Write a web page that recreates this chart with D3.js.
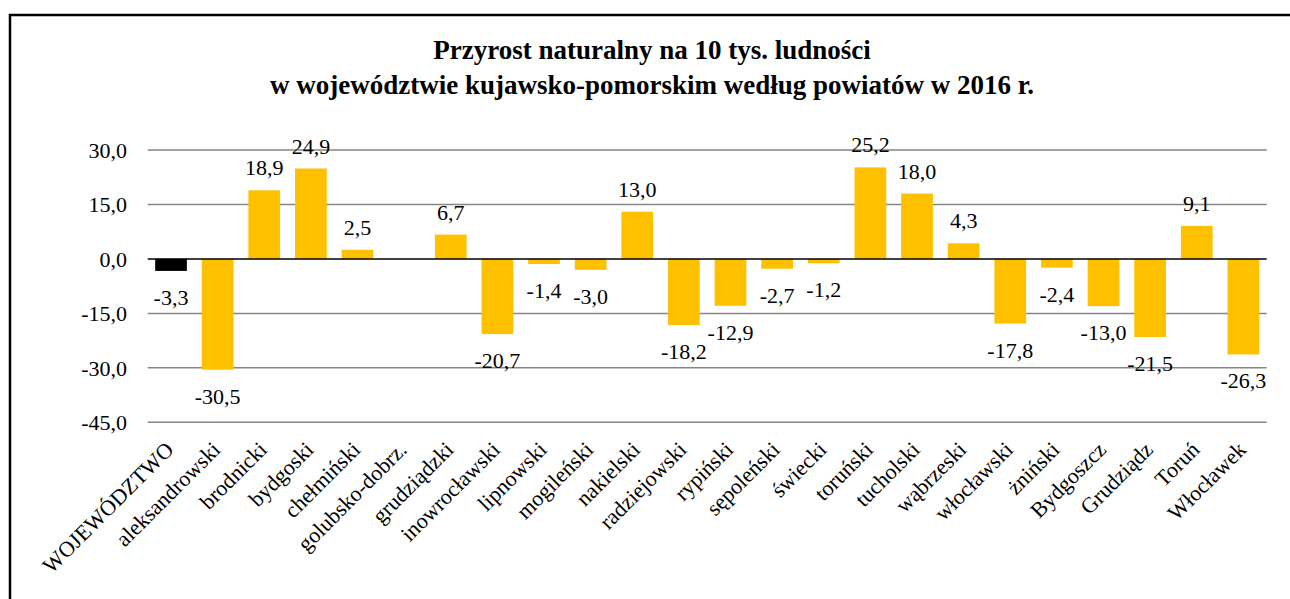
<!DOCTYPE html>
<html lang="pl">
  <head>
    <meta charset="UTF-8" />
    <title>Przyrost naturalny</title>
    <script src="https://d3js.org/d3.v7.min.js"></script>
    <style>
      body {
        margin: 0;
        background: #fff;
      }
      svg text {
        font-family: "Liberation Serif", "Times New Roman", serif;
        fill: #000;
      }
    </style>
  </head>
  <body>
    <svg width="1290" height="599"></svg>

    <script>
      var categories = [
        "WOJEWÓDZTWO", "aleksandrowski", "brodnicki", "bydgoski", "chełmiński",
        "golubsko-dobrz.", "grudziądzki", "inowrocławski", "lipnowski", "mogileński",
        "nakielski", "radziejowski", "rypiński", "sępoleński", "świecki",
        "toruński", "tucholski", "wąbrzeski", "włocławski", "żniński",
        "Bydgoszcz", "Grudziądz", "Toruń", "Włocławek"
      ];

      // golubsko-dobrz. has no bar and no label in the source
      var values = [
        -3.3, -30.5, 18.9, 24.9, 2.5,
        null, 6.7, -20.7, -1.4, -3.0,
        13.0, -18.2, -12.9, -2.7, -1.2,
        25.2, 18.0, 4.3, -17.8, -2.4,
        -13.0, -21.5, 9.1, -26.3
      ];

      var yTicks = [-45, -30, -15, 0, 15, 30];

      var titleLines = [
        "Przyrost naturalny na 10 tys. ludności",
        "w województwie kujawsko-pomorskim według powiatów w 2016 r."
      ];

      var data = categories.map(function (c, i) {
        return { name: c, value: values[i], total: i === 0 };
      });

      var svg = d3.select("svg");
      var fmt = function (v) {
        return d3.format(".1f")(v).replace(".", ",").replace("−", "-");
      };

      // outer frame
      svg.append("rect")
        .attr("x", 10).attr("y", 15)
        .attr("width", 1300).attr("height", 620)
        .attr("fill", "none")
        .attr("stroke", "#000")
        .attr("stroke-width", 2.5);

      svg.append("g")
        .selectAll("text")
        .data(titleLines)
        .join("text")
        .attr("x", 652)
        .attr("y", function (d, i) { return 59 + i * 35; })
        .attr("text-anchor", "middle")
        .style("font-size", "27px")
        .style("font-weight", "bold")
        .text(function (d) { return d; });

      var x = d3.scaleBand()
        .domain(categories)
        .range([147.7, 1266.7])
        .paddingInner(0.32)
        .paddingOuter(0.16);

      var y = d3.scaleLinear()
        .domain([-45, 30])
        .range([422.3, 150]);

      // gridlines
      svg.append("g")
        .selectAll("line")
        .data(yTicks.filter(function (t) { return t !== 0; }))
        .join("line")
        .attr("x1", 147.7).attr("x2", 1266.7)
        .attr("y1", function (d) { return y(d); })
        .attr("y2", function (d) { return y(d); })
        .attr("stroke", "#868686")
        .attr("stroke-width", 1.5);

      // y axis labels
      var yAxis = d3.axisLeft(y)
        .tickValues(yTicks)
        .tickSize(0)
        .tickPadding(0)
        .tickFormat(fmt);

      svg.append("g")
        .attr("transform", "translate(127,0)")
        .call(yAxis)
        .call(function (g) {
          g.select(".domain").remove();
          g.selectAll("text")
            .style("font-size", "22px")
            .attr("dy", "0.34em");
        });

      // bars
      svg.append("g")
        .selectAll("rect")
        .data(data.filter(function (d) { return d.value !== null; }))
        .join("rect")
        .attr("x", function (d) { return x(d.name); })
        .attr("width", x.bandwidth())
        .attr("y", function (d) { return y(Math.max(0, d.value)); })
        .attr("height", function (d) { return Math.abs(y(d.value) - y(0)); })
        .attr("fill", function (d) { return d.total ? "#000" : "#FFC000"; });

      // zero line
      svg.append("line")
        .attr("x1", 147.7).attr("x2", 1266.7)
        .attr("y1", y(0)).attr("y2", y(0))
        .attr("stroke", "#000")
        .attr("stroke-width", 1.5);

      // value labels
      svg.append("g")
        .selectAll("text")
        .data(data.filter(function (d) { return d.value !== null; }))
        .join("text")
        .attr("x", function (d) { return x(d.name) + x.bandwidth() / 2; })
        .attr("y", function (d) {
          return d.value >= 0 ? y(d.value) - 15 : y(d.value) + 34;
        })
        .attr("text-anchor", "middle")
        .style("font-size", "22px")
        .text(function (d) { return fmt(d.value); });

      // category labels, rotated
      svg.append("g")
        .selectAll("text")
        .data(categories)
        .join("text")
        .attr("transform", function (d) {
          var cx = x(d) + x.bandwidth() / 2 + 4;
          return "translate(" + cx + ",451) rotate(-45)";
        })
        .attr("text-anchor", "end")
        .style("font-size", "22px")
        .text(function (d) { return d; });
    </script>
  </body>
</html>
